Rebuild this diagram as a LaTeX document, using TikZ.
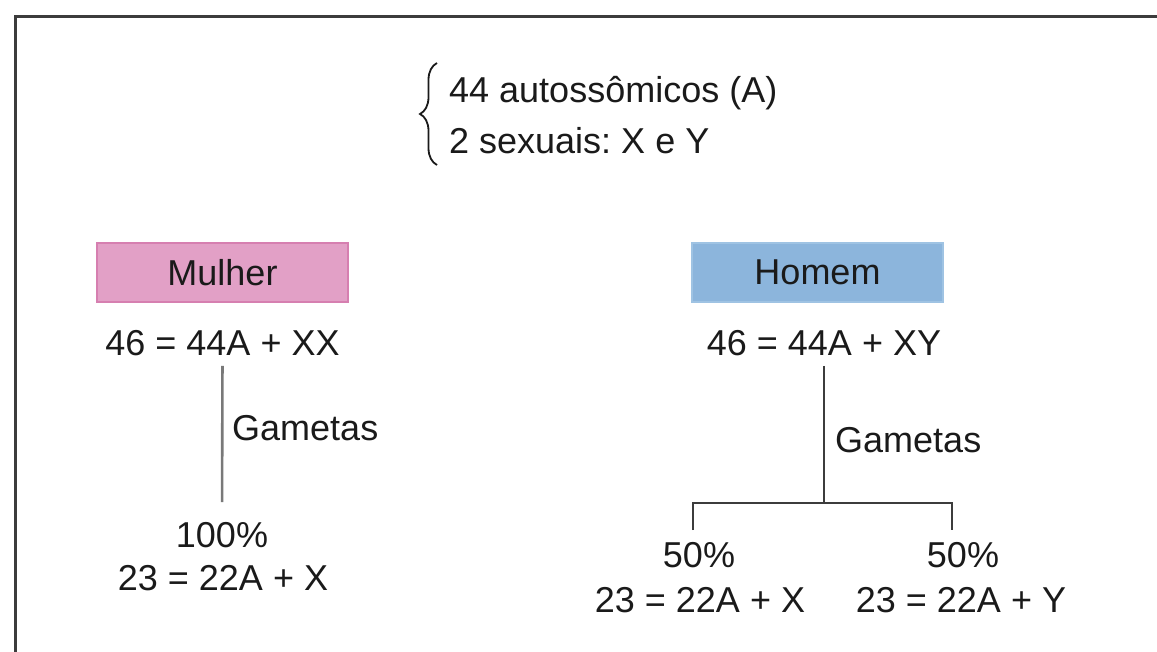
\documentclass[tikz,border=0pt]{standalone}
\usepackage{fontspec}
\setmainfont{Liberation Sans}
\usetikzlibrary{decorations.pathreplacing}
\definecolor{txt}{HTML}{1A1A1A}
\definecolor{pinkfill}{HTML}{E2A0C6}
\definecolor{pinkdraw}{HTML}{D67FB0}
\definecolor{bluefill}{HTML}{8CB5DC}
\definecolor{bluedraw}{HTML}{9FC3E3}
\definecolor{framec}{HTML}{3C3C3C}
\frenchspacing
\begin{document}
\begin{tikzpicture}[x=1pt,y=-1pt,
  lbl/.style={inner sep=0pt,text=txt,font=\fontsize{36pt}{43pt}\selectfont},
  sexbox/.style={lbl,minimum width=251pt,minimum height=59pt,line width=2pt},
  conn/.style={line width=2.6pt,draw=framec},
  connl/.style={line width=2.6pt,draw=gray!95!black}]
\useasboundingbox (0,0) rectangle (1157,652);
% frame
\draw[line width=3pt,draw=framec] (15,660) -- (15,17) -- (1165,17);
% brace and header
\draw[line width=1.8pt,draw=txt,decorate,decoration={brace,amplitude=17pt}] (437,165) -- (437,63);
\node[lbl,anchor=base west] (l1) at (449,103) {44 autossômicos (A)};
\node[lbl,anchor=base west] (l2) at (449,154) {2 sexuais: X e Y};
% boxes
\node[sexbox,fill=pinkfill,draw=pinkdraw] (mulher) at (222.5,272.5) {Mulher};
\node[sexbox,fill=bluefill,draw=bluedraw] (homem) at (817.5,272.5) {Homem};
% equations
\node[lbl] (eqM) at (222.5,343) {46 = 44A + XX};
\node[lbl] (eqH) at (824,343) {46 = 44A + XY};
% left branch
\node[lbl] (pM) at (222,535) {100\%};
\node[lbl] (rM) at (223,578) {23 = 22A + X};
\draw[connl,shorten <=10pt,shorten >=20pt] (eqM.south) -- (pM.north);
\node[lbl,anchor=west] (gM) at (232,428) {Gametas};
% right branch
\coordinate (split) at (824,503);
\coordinate (bl) at (693,530);
\coordinate (br) at (952,530);
\draw[conn,shorten <=10pt] (eqH.south) -- (split);
\draw[conn] (bl) |- (split) -| (br);
\node[lbl,anchor=west] (gH) at (835,440) {Gametas};
\node[lbl] (pH1) at (699,555) {50\%};
\node[lbl] (rH1) at (700,600) {23 = 22A + X};
\node[lbl] (pH2) at (963,555) {50\%};
\node[lbl] (rH2) at (961,600) {23 = 22A + Y};
\end{tikzpicture}
\end{document}
